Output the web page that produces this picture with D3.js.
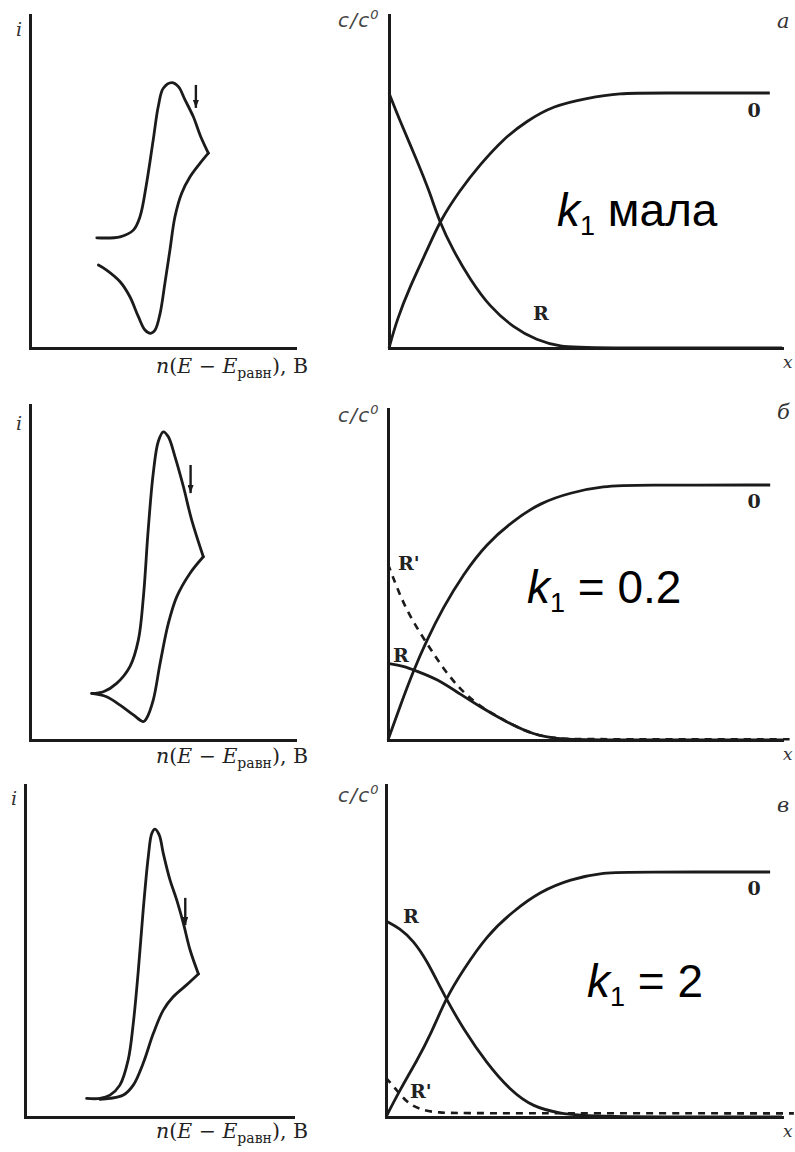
<!DOCTYPE html>
<html>
<head>
<meta charset="utf-8">
<script src="https://cdn.jsdelivr.net/npm/d3@7"></script>
<style>
  html, body { margin: 0; padding: 0; background: #fff; }
  svg { display: block; }
</style>
</head>
<body>
<svg id="chart" width="795" height="1152"></svg>
<script>
// ---- Cyclic voltammograms: [E, i] in normalised units (0..100 of each axis) ----
const cvForwardA = [[25.2,33.1],[34.0,33.4],[39.0,35.4],[41.5,39.4],[44.0,49.5],[46.5,62.5],[48.4,72.5],[50.3,78.0],[53.5,79.7],[56.0,78.5],[58.5,74.5],[61.6,69.5],[64.4,63.5],[67.3,58.5]];
const cvReverseA = [[67.3,58.5],[64.2,55.5],[60.4,51.4],[57.2,46.4],[54.7,39.4],[52.8,29.4],[50.9,19.4],[49.1,10.4],[47.2,5.4],[45.5,4.4],[43.4,5.4],[40.9,9.4],[37.7,15.4],[34.0,19.9],[28.9,23.4],[25.8,24.9]];

const cvForwardB = [[23.3,13.9],[27.7,14.4],[32.7,16.9],[37.7,21.9],[40.9,29.9],[42.8,42.8],[44.6,62.7],[46.5,79.6],[48.4,89.1],[50.3,92.0],[52.2,90.5],[54.7,84.6],[57.9,75.6],[61.0,65.7],[65.4,54.7]];
const cvReverseB = [[65.4,54.7],[60.4,49.8],[55.4,42.8],[52.2,34.8],[49.1,22.9],[46.5,11.9],[44.0,6.5],[42.8,5.5],[39.0,7.5],[34.0,10.4],[28.9,12.9],[23.3,13.9]];

const cvForwardC = [[23.0,5.6],[28.0,5.6],[31.7,6.6],[35.4,9.6],[38.5,17.2],[40.4,28.2],[42.3,44.3],[44.1,62.3],[46.0,78.4],[47.3,85.4],[48.5,86.7],[50.1,84.9],[51.6,79.4],[54.1,71.4],[56.6,65.4],[59.1,58.3],[61.6,50.3],[64.7,43.1]];
const cvReverseC = [[64.7,43.1],[60.3,39.8],[55.3,36.2],[51.6,32.2],[47.9,25.2],[44.1,16.2],[40.4,9.6],[36.7,6.6],[31.7,5.6],[28.0,5.3]];

// Scan-direction arrows: [E, iStart, iEnd]
const scanArrowA = [62.6, 79.0, 72.1];
const scanArrowB = [60.6, 82.1, 73.7];
const scanArrowC = [59.8, 66.0, 57.8];

// ---- Concentration profiles: [x, c/c0] ----
const profileOA = [[0,0],[0.20,0.11],[0.53,0.24],[0.96,0.38],[1.30,0.50],[1.81,0.62],[2.32,0.72],[2.91,0.82],[3.50,0.89],[4.18,0.95],[5.03,0.98],[5.88,1.0],[6.73,1.0],[9.69,1.0]];
const profileRA = [[0,1.0],[0.28,0.89],[0.70,0.74],[1.04,0.61],[1.27,0.50],[1.64,0.38],[2.06,0.27],[2.57,0.16],[3.17,0.08],[3.76,0.03],[4.35,0.005],[5.03,0],[10,0]];

const profileOB = [[0,0],[0.30,0.13],[0.64,0.27],[0.98,0.39],[1.40,0.52],[1.91,0.65],[2.50,0.77],[3.18,0.86],[3.86,0.93],[4.62,0.97],[5.47,0.996],[6.31,1.0],[9.70,1.0]];
const profileRB = [[0,0.30],[0.39,0.29],[0.73,0.27],[1.24,0.24],[1.83,0.18],[2.34,0.13],[3.01,0.07],[3.69,0.02],[4.37,0.003],[5.05,0],[10,0]];
const profileRpB = [[0,0.69],[0.22,0.60],[0.47,0.51],[0.81,0.42],[1.11,0.35],[1.45,0.27],[1.83,0.20],[2.25,0.14],[3.01,0.07],[3.69,0.02],[4.37,0.004],[5.05,0.003],[10.3,0.003]];

const profileOC = [[0,0],[0.35,0.11],[0.78,0.23],[1.11,0.33],[1.53,0.49],[1.95,0.60],[2.54,0.74],[3.21,0.84],[3.89,0.92],[4.65,0.97],[5.49,0.999],[6.33,1.0],[9.70,1.0]];
const profileRC = [[0,0.80],[0.35,0.77],[0.69,0.72],[1.03,0.64],[1.49,0.49],[1.95,0.36],[2.54,0.22],[3.13,0.11],[3.72,0.04],[4.39,0.015],[5.05,0],[10,0]];
const profileRpC = [[0,0.16],[0.27,0.11],[0.52,0.06],[0.86,0.03],[1.28,0.017],[2.1,0.015],[10.3,0.015]];

// ---- Text ----
const panelLetters = ["а", "б", "в"];
const rateLabels = [["k", "1", " мала"], ["k", "1", " = 0.2"], ["k", "1", " = 2"]];

const ink = "#1b1b1b";
const svg = d3.select("#chart");

// arrowhead pointing along the line direction
svg.append("defs").append("marker")
  .attr("id", "head")
  .attr("viewBox", "0 0 8 6")
  .attr("refX", 8).attr("refY", 3)
  .attr("markerWidth", 8).attr("markerHeight", 6)
  .attr("markerUnits", "userSpaceOnUse")
  .attr("orient", "auto")
  .append("path")
  .attr("d", "M0,0 L8,3 L0,6 Z")
  .attr("fill", ink);

function styleDomain(s) {
  s.select(".domain").attr("stroke", ink).attr("stroke-width", 3).attr("stroke-linecap", "square");
}

// ---- Left column: voltammograms ----
const leftPanels = [
  { x0: 30, x1: 295, y0: 348, yTop: 15, fwd: cvForwardA, rev: cvReverseA, arrow: scanArrowA, iY: 36, xLabY: 373 },
  { x0: 30, x1: 295, y0: 740, yTop: 405, fwd: cvForwardB, rev: cvReverseB, arrow: scanArrowB, iY: 430, xLabY: 763 },
  { x0: 25, x1: 293, y0: 1117, yTop: 785, fwd: cvForwardC, rev: cvReverseC, arrow: scanArrowC, iY: 805, xLabY: 1138 }
];

leftPanels.forEach(p => {
  const x = d3.scaleLinear().domain([0, 100]).range([p.x0, p.x1]);
  const y = d3.scaleLinear().domain([0, 100]).range([p.y0, p.yTop]);
  const g = svg.append("g");

  g.append("g").attr("transform", `translate(0,${p.y0})`)
    .call(d3.axisBottom(x).tickValues([]).tickSizeOuter(0)).call(styleDomain);
  g.append("g").attr("transform", `translate(${p.x0},0)`)
    .call(d3.axisLeft(y).tickValues([]).tickSizeOuter(0)).call(styleDomain);

  const line = d3.line().x(d => x(d[0])).y(d => y(d[1])).curve(d3.curveCatmullRom.alpha(0.5));
  [p.fwd, p.rev].forEach(seg => {
    g.append("path").attr("d", line(seg))
      .attr("fill", "none").attr("stroke", ink).attr("stroke-width", 2.8)
      .attr("stroke-linejoin", "round").attr("stroke-linecap", "round");
  });

  g.append("line")
    .attr("x1", x(p.arrow[0])).attr("x2", x(p.arrow[0]))
    .attr("y1", y(p.arrow[1])).attr("y2", y(p.arrow[2]))
    .attr("stroke", ink).attr("stroke-width", 2.4)
    .attr("marker-end", "url(#head)");

  g.append("text")
    .attr("x", p.x0 - 14).attr("y", p.iY)
    .attr("font-family", "DejaVu Serif, serif").attr("font-style", "italic")
    .attr("font-size", 19).attr("fill", "#333")
    .text("i");

  const xl = g.append("text")
    .attr("x", 308).attr("y", p.xLabY)
    .attr("text-anchor", "end")
    .attr("font-family", "DejaVu Serif, serif").attr("font-size", 20.5).attr("fill", "#222");
  xl.append("tspan").attr("font-style", "italic").text("n");
  xl.append("tspan").text("(");
  xl.append("tspan").attr("font-style", "italic").text("E");
  xl.append("tspan").text(" − ");
  xl.append("tspan").attr("font-style", "italic").text("E");
  xl.append("tspan").attr("font-size", 14).attr("dy", 5).text("равн");
  xl.append("tspan").attr("dy", -5).text("), B");
});

// ---- Right column: concentration profiles ----
const rightPanels = [
  { x0: 389, y0: 348, plateau: 93, yTop: 15, curves: [[profileOA, false], [profileRA, false]],
    letterY: 28, cLabY: 27, xLabY: 368,
    labels: [["0", 754, 117, "middle"], ["R", 541, 320, "middle"]],
    rate: [557, 226] },
  { x0: 388, y0: 740, plateau: 485, yTop: 409, curves: [[profileOB, false], [profileRB, false], [profileRpB, true]],
    letterY: 419, cLabY: 422, xLabY: 760,
    labels: [["0", 754, 508, "middle"], ["R'", 398, 570, "start"], ["R", 393, 662, "start"]],
    rate: [527, 603] },
  { x0: 386, y0: 1117, plateau: 872, yTop: 785, curves: [[profileOC, false], [profileRC, false], [profileRpC, true]],
    letterY: 812, cLabY: 802, xLabY: 1137,
    labels: [["0", 754, 895, "middle"], ["R", 403, 923, "start"], ["R'", 410, 1098, "start"]],
    rate: [587, 997] }
];

rightPanels.forEach((p, k) => {
  const xEnd = 782;
  const x = d3.scaleLinear().domain([0, 10]).range([p.x0, xEnd]);
  const yMax = (p.y0 - p.yTop) / (p.y0 - p.plateau);
  const y = d3.scaleLinear().domain([0, yMax]).range([p.y0, p.yTop]);
  const g = svg.append("g");

  g.append("g").attr("transform", `translate(0,${p.y0})`)
    .call(d3.axisBottom(x).tickValues([]).tickSizeOuter(0)).call(styleDomain);
  g.append("g").attr("transform", `translate(${p.x0},0)`)
    .call(d3.axisLeft(y).tickValues([]).tickSizeOuter(0)).call(styleDomain);

  const line = d3.line().x(d => x(d[0])).y(d => y(d[1])).curve(d3.curveBasis);
  p.curves.forEach(([data, dashed]) => {
    g.append("path").attr("d", line(data))
      .attr("fill", "none").attr("stroke", ink)
      .attr("stroke-width", dashed ? 2.6 : 2.8)
      .attr("stroke-dasharray", dashed ? "7,6" : null)
      .attr("stroke-linejoin", "round");
  });

  // axis captions
  const cl = g.append("text")
    .attr("x", 338).attr("y", p.cLabY)
    .attr("font-family", "DejaVu Sans, sans-serif").attr("font-style", "italic")
    .attr("font-size", 20).attr("fill", "#444").attr("letter-spacing", 1.2);
  cl.append("tspan").text("c/c");
  cl.append("tspan").attr("font-size", 13).attr("dy", -8).text("0");

  g.append("text")
    .attr("x", 783).attr("y", p.xLabY)
    .attr("font-family", "DejaVu Serif, serif").attr("font-style", "italic")
    .attr("font-size", 17).attr("fill", "#333")
    .text("x");

  g.append("text")
    .attr("x", 777).attr("y", p.letterY)
    .attr("font-family", "DejaVu Serif, serif").attr("font-style", "italic")
    .attr("font-size", 21).attr("fill", "#333")
    .text(panelLetters[k]);

  // curve labels
  p.labels.forEach(([t, lx, ly, anchor]) => {
    g.append("text")
      .attr("x", lx).attr("y", ly).attr("text-anchor", anchor)
      .attr("font-family", "DejaVu Serif, serif").attr("font-weight", "bold")
      .attr("font-size", 19).attr("fill", "#222")
      .text(t);
  });

  // rate constant annotation
  const r = rateLabels[k];
  const rt = g.append("text")
    .attr("x", p.rate[0]).attr("y", p.rate[1])
    .attr("font-family", "Liberation Sans, Arial, sans-serif")
    .attr("font-size", 46).attr("fill", "#000");
  rt.append("tspan").attr("font-style", "italic").text(r[0]);
  rt.append("tspan").attr("font-size", 27).attr("dy", 9).text(r[1]);
  rt.append("tspan").attr("dy", -9).text(r[2]);
});
</script>
</body>
</html>
